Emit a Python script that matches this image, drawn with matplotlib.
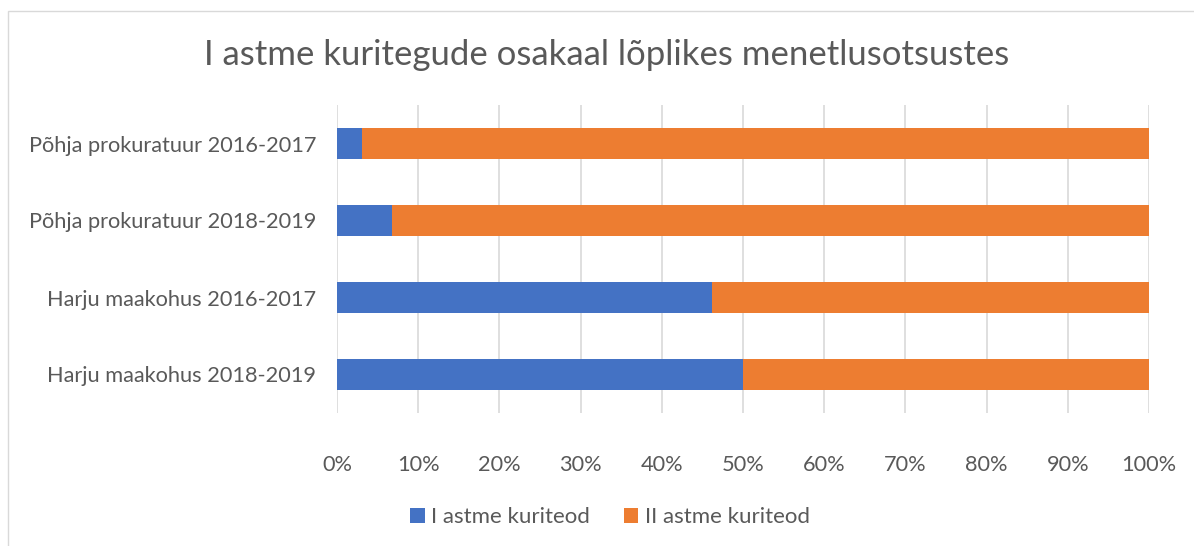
import numpy as np
import matplotlib.pyplot as plt
from matplotlib.patches import Rectangle

# andmed
categories = ["Põhja prokuratuur 2016-2017", "Põhja prokuratuur 2018-2019",
              "Harju maakohus 2016-2017", "Harju maakohus 2018-2019"]
first_degree = [3.1, 6.8, 46.2, 50.0]
second_degree = [96.9, 93.2, 53.8, 50.0]
series_names = ["I astme kuriteod", "II astme kuriteod"]
title = "I astme kuritegude osakaal lõplikes menetlusotsustes"

blue = "#4472C4"
orange = "#ED7D31"
text_col = "#595959"

plt.rcParams['font.family'] = ['Lato', 'DejaVu Sans']

fig = plt.figure(figsize=(11.94, 5.46), dpi=100)
ax = fig.add_axes([337/1194, 1 - 413/546, (1149-337)/1194, (413-105)/546])

# raam ümber graafiku
fig.patches.append(Rectangle((8/1194, -0.1), 1.2, 1 - 11/546 + 0.1, transform=fig.transFigure,
                             fill=False, edgecolor="#D9D9D9", lw=1))

y = np.arange(len(categories))
ax.barh(y, first_degree, height=0.4, color=blue, label=series_names[0], zorder=3)
ax.barh(y, second_degree, left=first_degree, height=0.4, color=orange,
        label=series_names[1], zorder=3)

ax.set_xlim(0, 100)
ax.set_ylim(3.5, -0.5)
ax.set_yticks(y)
ax.set_yticklabels(categories, fontsize=15.7, color=text_col)
ax.set_xticks(np.arange(0, 101, 10))
ax.set_xticklabels([f"{v}%" for v in range(0, 101, 10)], fontsize=15.7, color=text_col)
ax.tick_params(axis='y', length=0, pad=15)
ax.tick_params(axis='x', length=0, pad=30)
ax.xaxis.grid(True, color="#D9D9D9", lw=1.2, zorder=0)
for s in ax.spines.values():
    s.set_visible(False)

fig.text(607/1194, 1 - 55/546, title, ha='center', va='center', fontsize=25, color=text_col)

leg = fig.legend(loc='center', bbox_to_anchor=(610/1194, 1 - 517/546), ncol=2, frameon=False,
                 fontsize=16, handlelength=0.65, handleheight=0.65, columnspacing=1.5,
                 handletextpad=0.3)
for t in leg.get_texts():
    t.set_color(text_col)

fig.savefig("out.png", dpi=100)
